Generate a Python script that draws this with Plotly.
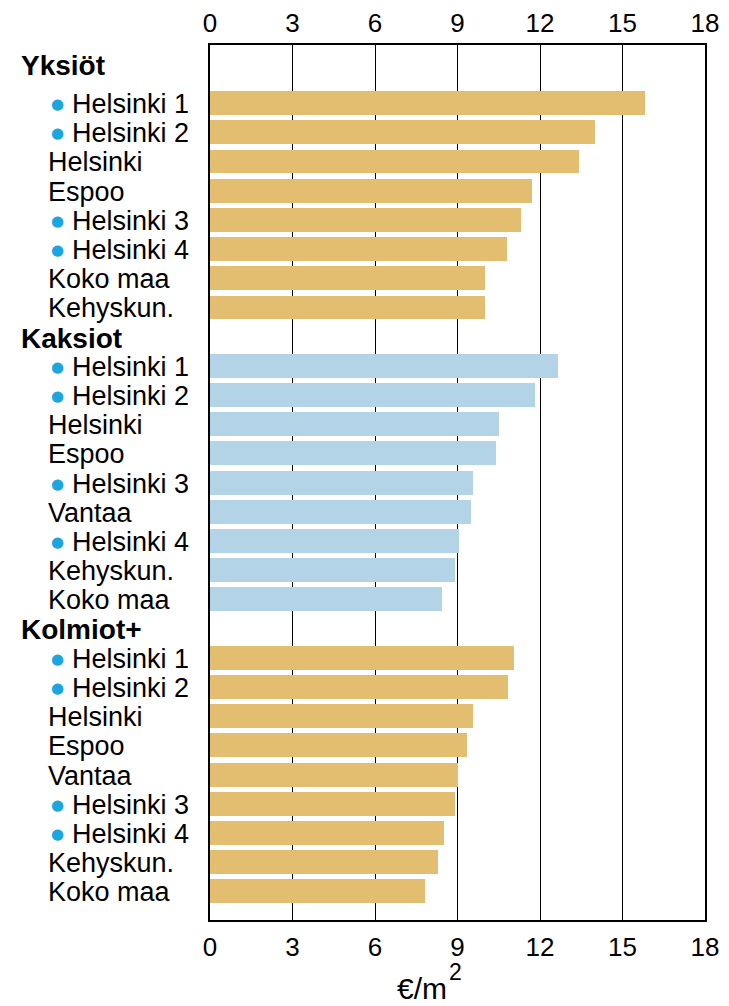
import plotly.graph_objects as go

# ---- data ----
groups = ["Yksiöt", "Kaksiot", "Kolmiot+"]

yksiot_labels = ["Helsinki 1", "Helsinki 2", "Helsinki", "Espoo", "Helsinki 3", "Helsinki 4", "Koko maa", "Kehyskun."]
yksiot_bullet = [1, 1, 0, 0, 1, 1, 0, 0]
yksiot_values = [15.8, 14.0, 13.4, 11.7, 11.3, 10.8, 10.0, 10.0]

kaksiot_labels = ["Helsinki 1", "Helsinki 2", "Helsinki", "Espoo", "Helsinki 3", "Vantaa", "Helsinki 4", "Kehyskun.", "Koko maa"]
kaksiot_bullet = [1, 1, 0, 0, 1, 0, 1, 0, 0]
kaksiot_values = [12.65, 11.8, 10.5, 10.4, 9.55, 9.5, 9.05, 8.9, 8.45]

kolmiot_labels = ["Helsinki 1", "Helsinki 2", "Helsinki", "Espoo", "Vantaa", "Helsinki 3", "Helsinki 4", "Kehyskun.", "Koko maa"]
kolmiot_bullet = [1, 1, 0, 0, 0, 1, 1, 0, 0]
kolmiot_values = [11.05, 10.85, 9.55, 9.35, 9.0, 8.9, 8.5, 8.3, 7.8]

x_ticks = [0, 3, 6, 9, 12, 15, 18]

GOLD = "#E4BE70"
BLUE = "#B3D4E6"
DOT = "#1AA7DF"
FONT = "Liberation Sans, Arial, sans-serif"

group_data = [
    (groups[0], yksiot_labels, yksiot_bullet, yksiot_values, GOLD),
    (groups[1], kaksiot_labels, kaksiot_bullet, kaksiot_values, BLUE),
    (groups[2], kolmiot_labels, kolmiot_bullet, kolmiot_values, GOLD),
]
header_yshift = [8, -2, -1]

fig = go.Figure()
annotations = []
idx = 0
for gi, (gname, labels, bullets, values, color) in enumerate(group_data):
    annotations.append(dict(
        x=0, xref="paper", y=idx, yref="y", text="<b>%s</b>" % gname,
        xanchor="left", yanchor="middle", xshift=-191, yshift=header_yshift[gi], showarrow=False,
        font=dict(family=FONT, size=28, color="black")))
    idx += 1
    ys = list(range(idx, idx + len(labels)))
    fig.add_trace(go.Bar(x=values, y=ys, orientation="h", marker=dict(color=color, line=dict(width=0)),
                         width=0.82, showlegend=False, hoverinfo="x"))
    for lab, b, y in zip(labels, bullets, ys):
        if b:
            annotations.append(dict(
                x=0, xref="paper", y=y, yref="y", text="●",
                xanchor="center", yanchor="middle", xshift=-153, yshift=-1, showarrow=False,
                font=dict(family="DejaVu Sans", size=15, color=DOT)))
            annotations.append(dict(
                x=0, xref="paper", y=y, yref="y", text=lab,
                xanchor="left", yanchor="middle", xshift=-140, yshift=-1, showarrow=False,
                font=dict(family=FONT, size=27, color="black")))
        else:
            annotations.append(dict(
                x=0, xref="paper", y=y, yref="y", text=lab,
                xanchor="left", yanchor="middle", xshift=-164, yshift=-1, showarrow=False,
                font=dict(family=FONT, size=27, color="black")))
    idx += len(labels)

# invisible trace for the top axis
fig.add_trace(go.Scatter(x=[0, 18], y=[0, 0], xaxis="x2", mode="markers",
                         marker=dict(opacity=0), showlegend=False, hoverinfo="skip"))

# axis unit: €/m²
annotations.append(dict(
    x=0.428, xref="paper", y=0, yref="paper", text="€/m",
    xanchor="center", yanchor="middle", yshift=-68, showarrow=False,
    font=dict(family=FONT, size=30, color="black")))
annotations.append(dict(
    x=0.478, xref="paper", y=0, yref="paper", text="2",
    xanchor="left", yanchor="middle", yshift=-52, showarrow=False,
    font=dict(family=FONT, size=23, color="black")))

axis_common = dict(range=[0, 18], tickvals=x_ticks, showgrid=True, gridcolor="black", gridwidth=1,
                   zeroline=False, showline=True, linecolor="black", linewidth=2,
                   ticks="outside", tickcolor="rgba(0,0,0,0)", automargin=False,
                   tickfont=dict(family=FONT, size=26, color="black"), fixedrange=True)

fig.update_layout(
    width=713, height=998,
    margin=dict(l=202, r=16, t=37, b=86),
    plot_bgcolor="white", paper_bgcolor="white",
    bargap=0,
    xaxis=dict(**axis_common, side="bottom", mirror=True, ticklen=3),
    xaxis2=dict(**axis_common, side="top", overlaying="x", matches="x", ticklen=1),
    yaxis=dict(range=[28.98, -0.99], showticklabels=False, showgrid=False, zeroline=False,
               showline=True, linecolor="black", linewidth=2, mirror=True, ticks="", fixedrange=True),
    annotations=annotations,
    font=dict(family=FONT),
)

fig.write_html("out.html")
